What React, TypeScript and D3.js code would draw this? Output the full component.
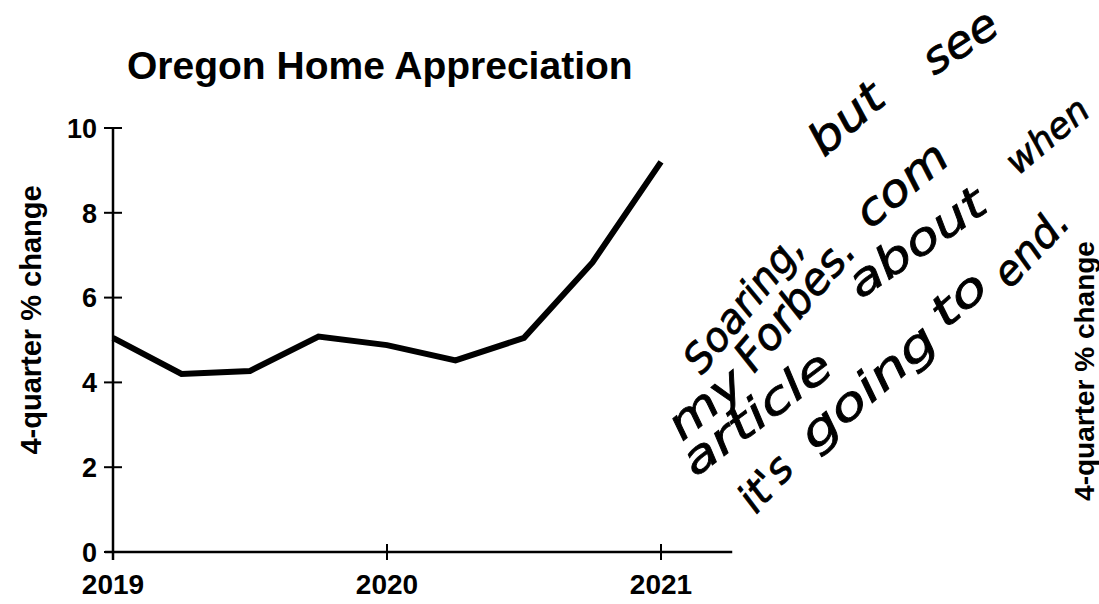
import React, { useLayoutEffect, useRef, useState } from "react";
import * as d3 from "d3";

const quarters = [2019, 2019.25, 2019.5, 2019.75, 2020, 2020.25, 2020.5, 2020.75, 2021];
const appreciation = [5.05, 4.2, 4.27, 5.08, 4.88, 4.52, 5.05, 6.83, 9.2];
const yTicks = [0, 2, 4, 6, 8, 10];
const xTicks = [2019, 2020, 2021];
const title = "Oregon Home Appreciation";
const yLabel = "4-quarter % change";

// handwritten note, word by word: text, baseline start, baseline end
const noteWords = ["Soaring,", "but", "see", "my", "Forbes.", "com", "article", "about", "when", "it's", "going", "to", "end."];
const noteStarts: [number, number][] = [
  [702, 376], [824, 158], [934, 76],
  [682, 442], [754, 374], [870, 230],
  [695, 478], [860, 300], [1018, 176],
  [756, 515], [815, 452], [946, 330], [1010, 290],
];
const noteEnds: [number, number][] = [
  [806, 248], [888, 102], [1002, 32],
  [748, 388], [858, 252], [952, 162],
  [836, 372], [990, 210], [1092, 114],
  [796, 470], [940, 345], [991, 290], [1072, 224],
];

const W = 1099;
const H = 604;
const HAND_FONT = "'DejaVu Sans', sans-serif";

export default function App() {
  const x = d3.scaleLinear().domain([2019, 2021]).range([113, 661]);
  const y = d3.scaleLinear().domain([0, 10]).range([552, 128]);
  const line = d3
    .line<number>()
    .x((_, i) => x(quarters[i]))
    .y((d) => y(d));
  const axisFont = "'Liberation Sans', Arial, Helvetica, sans-serif";
  const xEnd = x(2021.26);

  const measureRefs = useRef<(SVGTextElement | null)[]>([]);
  const [sizes, setSizes] = useState<number[]>(noteWords.map(() => 40));
  useLayoutEffect(() => {
    const next = noteWords.map((s, i) => {
      const el = measureRefs.current[i];
      const [sx, sy] = noteStarts[i];
      const [ex, ey] = noteEnds[i];
      const len = Math.hypot(ex - sx, ey - sy);
      const nat = el ? el.getComputedTextLength() / 100 : 0.6 * s.length;
      return Math.max(34, Math.min(44, len / (nat || 1)));
    });
    setSizes(next);
  }, []);

  return (
    <svg
      width={W}
      height={H}
      style={{ position: "absolute", left: 0, top: 0, background: "#fff" }}
    >
      <rect x={0} y={0} width={W} height={H} fill="#fff" />
      <g visibility="hidden">
        {noteWords.map((s, i) => (
          <text
            key={"m" + i}
            ref={(el) => {
              measureRefs.current[i] = el;
            }}
            x={0}
            y={-200}
            fontFamily={HAND_FONT}
            fontWeight={200}
            fontStyle="italic"
            fontSize={100}
          >
            {s}
          </text>
        ))}
      </g>
      <text x={127} y={79} fontFamily={axisFont} fontWeight="bold" fontSize={39} fill="#000">
        {title}
      </text>
      {/* y axis */}
      <line x1={x(2019)} x2={x(2019)} y1={y(10)} y2={y(0) + 8} stroke="#000" strokeWidth={2.5} />
      {yTicks.map((t) => (
        <g key={"yt" + t}>
          <line x1={x(2019) - 9} x2={x(2019) + 9} y1={y(t)} y2={y(t)} stroke="#000" strokeWidth={2} />
          <text
            x={97}
            y={y(t)}
            dy="0.36em"
            textAnchor="end"
            fontFamily={axisFont}
            fontWeight="bold"
            fontSize={27}
            fill="#000"
          >
            {t}
          </text>
        </g>
      ))}
      {/* x axis */}
      <line x1={x(2019) - 8} x2={xEnd} y1={y(0)} y2={y(0)} stroke="#000" strokeWidth={2.5} />
      {xTicks.map((t) => (
        <g key={"xt" + t}>
          <line x1={x(t)} x2={x(t)} y1={y(0) - 8} y2={y(0) + 8} stroke="#000" strokeWidth={2} />
          <text
            x={x(t)}
            y={594}
            textAnchor="middle"
            fontFamily={axisFont}
            fontWeight="bold"
            fontSize={28}
            fill="#000"
          >
            {t}
          </text>
        </g>
      ))}
      <text
        transform={`translate(41,320) rotate(-90)`}
        textAnchor="middle"
        fontFamily={axisFont}
        fontWeight="bold"
        fontSize={29}
        fill="#000"
      >
        {yLabel}
      </text>
      <text
        transform={`translate(1094,371) rotate(-90)`}
        textAnchor="middle"
        fontFamily={axisFont}
        fontWeight="bold"
        fontSize={28}
        fill="#000"
      >
        {yLabel}
      </text>
      <path
        d={line(appreciation) || ""}
        fill="none"
        stroke="#000"
        strokeWidth={6}
        strokeLinejoin="miter"
      />
      {noteWords.map((s, i) => {
        const [sx, sy] = noteStarts[i];
        const [ex, ey] = noteEnds[i];
        const ang = (Math.atan2(ey - sy, ex - sx) * 180) / Math.PI;
        const len = Math.hypot(ex - sx, ey - sy);
        return (
          <text
            key={"n" + i}
            transform={`translate(${sx},${sy}) rotate(${ang})`}
            fontFamily={HAND_FONT}
            fontWeight={200}
            fontStyle="italic"
            fontSize={sizes[i]}
            textLength={len}
            lengthAdjust="spacingAndGlyphs"
            fill="#000"
            stroke="#000"
            strokeWidth={0.8}
          >
            {s}
          </text>
        );
      })}
    </svg>
  );
}
